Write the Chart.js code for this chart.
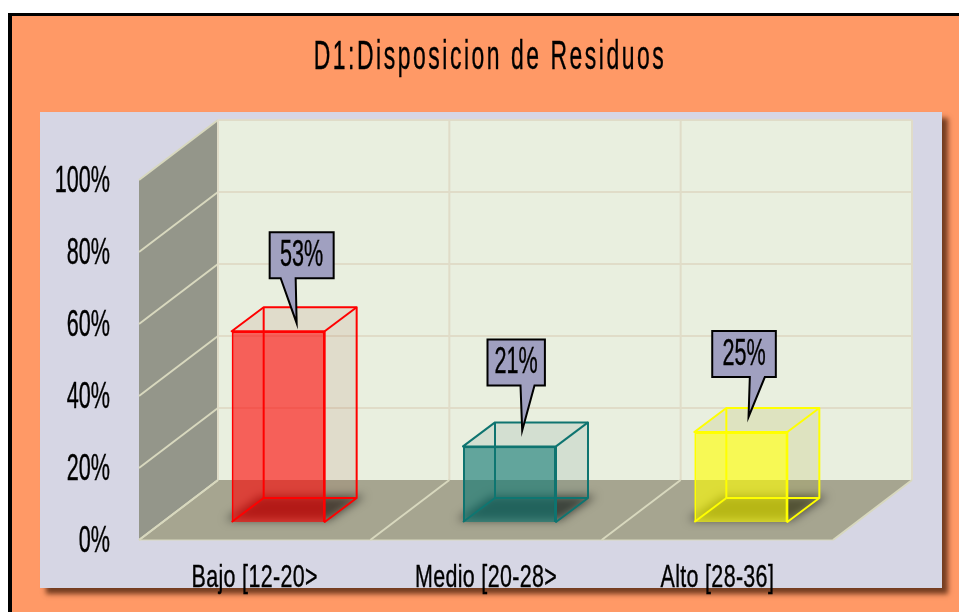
<!DOCTYPE html>
<html>
<head>
<meta charset="utf-8">
<title>D1:Disposicion de Residuos</title>
<script src="https://cdn.jsdelivr.net/npm/chart.js@4"></script>
<style>
    html, body { margin: 0; padding: 0; background: #fff; }
    canvas { display: block; }
</style>
</head>
<body>
<canvas id="chartCanvas" width="959" height="612"></canvas>
<script>
const chartTitle = 'D1:Disposicion de Residuos';
const categories = ['Bajo [12-20>', 'Medio [20-28>', 'Alto [28-36]'];
const percentages = [53, 21, 25];
const tickStep = 20;
const axisMax = 100;

// colours per bar
const edgeColors = ['#ff0000', '#0e7470', '#ffff00'];
const frontColors = ['rgba(255,0,0,0.6)', 'rgba(15,120,115,0.62)', 'rgba(255,255,0,0.62)'];
const sideColors = ['rgba(150,60,30,0.1)', 'rgba(20,90,90,0.1)', 'rgba(170,170,30,0.16)'];

// callout placement relative to the top middle of each bar's front face
const callouts = [
    { left: -8.5, top: -99, w: 64, h: 46, tipX: 18.5, tipY: -8, baseA: 2.5, baseB: 17.5 },
    { left: -22, top: -107, w: 57.4, h: 46, tipX: 12.7, tipY: -16, baseA: 11, baseB: 25 },
    { left: -28.6, top: -101, w: 63.6, h: 46, tipX: 7.7, tipY: -15, baseA: 9, baseB: 24 }
];

const DEPTH_X = 79;
const DEPTH_Y = -60;
const BAR_DEPTH_X = 32;
const BAR_DEPTH_Y = -24;
const BAR_SHIFT_X = (DEPTH_X - BAR_DEPTH_X) / 2;
const BAR_SHIFT_Y = (DEPTH_Y - BAR_DEPTH_Y) / 2;

const FONT_FAMILY = '"Liberation Sans Narrow", "Liberation Sans", sans-serif';

function poly(ctx, pts, fill, stroke, lineWidth) {
    ctx.beginPath();
    pts.forEach((p, i) => (i ? ctx.lineTo(p[0], p[1]) : ctx.moveTo(p[0], p[1])));
    ctx.closePath();
    if (fill) { ctx.fillStyle = fill; ctx.fill(); }
    if (stroke) { ctx.strokeStyle = stroke; ctx.lineWidth = lineWidth; ctx.stroke(); }
}

function line(ctx, x1, y1, x2, y2, color, width) {
    ctx.beginPath();
    ctx.moveTo(x1, y1);
    ctx.lineTo(x2, y2);
    ctx.strokeStyle = color;
    ctx.lineWidth = width;
    ctx.stroke();
}

// the reference uses a very condensed face, so squeeze the text sideways
function narrowText(ctx, text, x, y, size, squeeze, align, spacing) {
    ctx.save();
    ctx.font = size + 'px ' + FONT_FAMILY;
    ctx.letterSpacing = (spacing || 0) + 'px';
    ctx.textAlign = align;
    ctx.textBaseline = 'middle';
    ctx.fillStyle = '#000';
    ctx.strokeStyle = '#000';
    ctx.lineWidth = 0.4;
    ctx.translate(x, y);
    ctx.scale(squeeze, 1);
    ctx.fillText(text, 0, 0);
    ctx.strokeText(text, 0, 0);
    ctx.restore();
}

const scenePlugin = {
    id: 'scene',
    beforeDraw(chart) {
        const ctx = chart.ctx;
        ctx.save();
        ctx.fillStyle = '#fff';
        ctx.fillRect(0, 0, 959, 612);
        ctx.fillStyle = '#000';
        ctx.fillRect(8, 13, 951, 599);
        ctx.fillStyle = '#ff9966';
        ctx.fillRect(12, 16, 947, 596);
        ctx.shadowColor = 'rgba(70,30,10,0.75)';
        ctx.shadowBlur = 5;
        ctx.shadowOffsetX = 6;
        ctx.shadowOffsetY = 6;
        ctx.fillStyle = '#d6d6e4';
        ctx.fillRect(40, 112, 902, 476);
        ctx.restore();
    },
    beforeDatasetsDraw(chart) {
        const ctx = chart.ctx;
        const x = chart.scales.x;
        const y = chart.scales.y;
        const y0 = y.getPixelForValue(0);
        const yTop = y.getPixelForValue(axisMax);
        const bx = x.left + DEPTH_X;
        const bxr = x.right + DEPTH_X;
        const wallGrid = '#d8d8be';
        const backGrid = '#e0dcc8';

        ctx.save();
        poly(ctx, [[bx, yTop + DEPTH_Y], [bxr, yTop + DEPTH_Y], [bxr, y0 + DEPTH_Y], [bx, y0 + DEPTH_Y]], '#e9efdf');
        poly(ctx, [[x.left, yTop], [bx, yTop + DEPTH_Y], [bx, y0 + DEPTH_Y], [x.left, y0]], '#94968a');
        poly(ctx, [[x.left, y0], [x.right, y0], [bxr, y0 + DEPTH_Y], [bx, y0 + DEPTH_Y]], '#a6a590');

        // gridlines on the back wall and the side wall
        y.ticks.forEach(t => {
            const py = y.getPixelForValue(t.value);
            if (t.value > 0) line(ctx, bx, py + DEPTH_Y, bxr, py + DEPTH_Y, backGrid, 2);
            line(ctx, x.left, py, bx, py + DEPTH_Y, wallGrid, 2);
        });
        // category boundaries on the back wall and the floor
        const slot = (x.right - x.left) / categories.length;
        for (let i = 0; i <= categories.length; i++) {
            const px = x.left + slot * i;
            line(ctx, px + DEPTH_X, yTop + DEPTH_Y, px + DEPTH_X, y0 + DEPTH_Y, backGrid, 2);
            line(ctx, px, y0, px + DEPTH_X, y0 + DEPTH_Y, wallGrid, 2);
        }
        line(ctx, x.left, y0, x.right, y0, wallGrid, 1);
        ctx.restore();

        // back faces and floor shadow sit behind the native front face
        chart.getDatasetMeta(0).data.forEach((bar, i) => {
            const l = bar.x - bar.width / 2 + BAR_SHIFT_X;
            const r = bar.x + bar.width / 2 + BAR_SHIFT_X;
            const b = bar.base + BAR_SHIFT_Y;
            const t = bar.y + BAR_SHIFT_Y;
            const dx = BAR_DEPTH_X;
            const dy = BAR_DEPTH_Y;

            // shadow only: the polygon itself is drawn off the canvas
            ctx.save();
            ctx.shadowColor = 'rgba(0,0,0,0.6)';
            ctx.shadowBlur = 10;
            ctx.shadowOffsetX = 2000;
            ctx.shadowOffsetY = -2;
            poly(ctx, [[l - 6 - 2000, b], [r + 4 - 2000, b], [r + dx + 8 - 2000, b + dy], [l + dx - 4 - 2000, b + dy]], '#000');
            ctx.restore();

            ctx.save();
            poly(ctx, [[r, b], [r + dx, b + dy], [r + dx, t + dy], [r, t]], sideColors[i]);
            poly(ctx, [[l, t], [r, t], [r + dx, t + dy], [l + dx, t + dy]], sideColors[i]);
            line(ctx, l + dx, b + dy, l + dx, t + dy, edgeColors[i], 2);
            line(ctx, l + dx, b + dy, r + dx, b + dy, edgeColors[i], 2);
            line(ctx, l, b, l + dx, b + dy, edgeColors[i], 2);
            ctx.restore();
        });
    },
    beforeDatasetDraw(chart) {
        chart.ctx.save();
        chart.ctx.translate(BAR_SHIFT_X, BAR_SHIFT_Y);
    },
    afterDatasetDraw(chart) {
        chart.ctx.restore();
    },
    afterDatasetsDraw(chart) {
        const ctx = chart.ctx;
        chart.getDatasetMeta(0).data.forEach((bar, i) => {
            const l = bar.x - bar.width / 2 + BAR_SHIFT_X;
            const r = bar.x + bar.width / 2 + BAR_SHIFT_X;
            const b = bar.base + BAR_SHIFT_Y;
            const t = bar.y + BAR_SHIFT_Y;
            const dx = BAR_DEPTH_X;
            const dy = BAR_DEPTH_Y;
            ctx.save();
            ctx.lineJoin = 'round';
            poly(ctx, [[l, t], [l + dx, t + dy], [r + dx, t + dy], [r + dx, b + dy], [r, b], [r, t]], null, edgeColors[i], 2);
            line(ctx, r, t, r + dx, t + dy, edgeColors[i], 2);
            ctx.restore();

            const c = callouts[i];
            const cx = l + bar.width / 2;
            const bx = cx + c.left;
            const by = t + c.top;
            poly(ctx, [
                [bx, by], [bx + c.w, by], [bx + c.w, by + c.h],
                [cx + c.baseB, by + c.h], [cx + c.tipX, t + c.tipY], [cx + c.baseA, by + c.h],
                [bx, by + c.h]
            ], '#a0a0c0', '#000', 2);
            narrowText(ctx, percentages[i] + '%', bx + c.w / 2, by + c.h / 2 + 1, 36, 0.6, 'center');
        });
    },
    afterDraw(chart) {
        const ctx = chart.ctx;
        const x = chart.scales.x;
        const y = chart.scales.y;
        y.ticks.forEach(t => {
            narrowText(ctx, t.label, 110, y.getPixelForValue(t.value) + 2, 36, 0.6, 'right');
        });
        categories.forEach((label, i) => {
            narrowText(ctx, label, x.getPixelForTick(i), 578, 32, 0.67, 'center', 0.5);
        });
        narrowText(ctx, chartTitle, 490, 58, 41, 0.56, 'center', 4.5);
    }
};

new Chart(document.getElementById('chartCanvas').getContext('2d'), {
    type: 'bar',
    data: {
        labels: categories,
        datasets: [{
            data: percentages,
            backgroundColor: frontColors,
            borderColor: edgeColors,
            borderWidth: 2,
            barPercentage: 0.402,
            categoryPercentage: 1
        }]
    },
    options: {
        responsive: false,
        animation: false,
        layout: { padding: { left: 139, right: 126, top: 180, bottom: 72 } },
        plugins: { legend: { display: false }, tooltip: { enabled: false } },
        scales: {
            x: {
                grid: { display: false },
                border: { display: false },
                ticks: { display: false },
                afterFit: s => { s.height = 0; }
            },
            y: {
                min: 0,
                max: axisMax,
                grid: { display: false },
                border: { display: false },
                ticks: { display: false, stepSize: tickStep, callback: v => v + '%' },
                afterFit: s => { s.width = 0; }
            }
        }
    },
    plugins: [scenePlugin]
});
</script>
</body>
</html>
